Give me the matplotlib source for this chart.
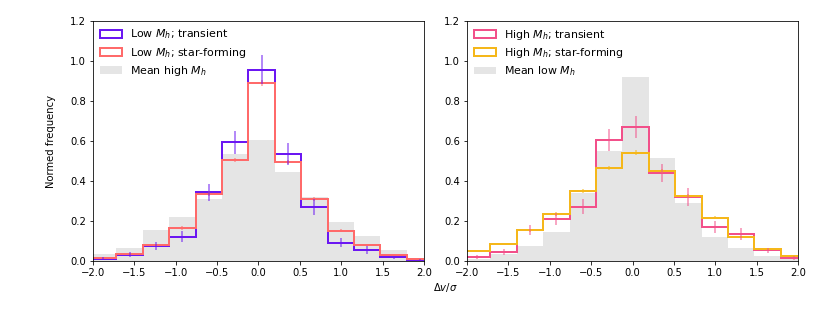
import numpy as np
import matplotlib
matplotlib.use("Agg")
import matplotlib.pyplot as plt

# bin edges (13 bins)
edges = np.array([-2.036, -1.717, -1.398, -1.079, -0.760, -0.441, -0.122,
                  0.197, 0.516, 0.835, 1.154, 1.473, 1.792, 2.111])

# left panel: low halo mass
low_trans = [0.012, 0.032, 0.077, 0.122, 0.344, 0.593, 0.956, 0.535, 0.270, 0.092, 0.055, 0.018, 0.005]
low_trans_err = [0.006, 0.014, 0.020, 0.028, 0.043, 0.058, 0.073, 0.053, 0.040, 0.022, 0.020, 0.009, 0.004]
low_sf = [0.015, 0.033, 0.080, 0.165, 0.336, 0.505, 0.890, 0.495, 0.309, 0.152, 0.079, 0.032, 0.012]
low_sf_err = [0.003, 0.005, 0.007, 0.010, 0.012, 0.010, 0.014, 0.010, 0.010, 0.007, 0.006, 0.004, 0.003]
mean_high = [0.037, 0.063, 0.155, 0.222, 0.312, 0.535, 0.605, 0.446, 0.321, 0.194, 0.127, 0.057, 0.015]

# right panel: high halo mass
high_trans = [0.018, 0.045, 0.155, 0.210, 0.272, 0.605, 0.670, 0.441, 0.320, 0.170, 0.134, 0.053, 0.015]
high_trans_err = [0.010, 0.016, 0.024, 0.031, 0.037, 0.054, 0.056, 0.046, 0.043, 0.029, 0.029, 0.013, 0.008]
high_sf = [0.052, 0.084, 0.154, 0.234, 0.349, 0.464, 0.541, 0.451, 0.324, 0.217, 0.120, 0.060, 0.027]
high_sf_err = [0.005, 0.006, 0.008, 0.009, 0.010, 0.011, 0.012, 0.011, 0.010, 0.008, 0.007, 0.005, 0.004]
mean_low = [0.012, 0.037, 0.077, 0.145, 0.341, 0.550, 0.922, 0.515, 0.289, 0.120, 0.067, 0.025, 0.008]

c_purple = '#6b17f2'
c_red = '#ff6a6a'
c_pink = '#f2508a'
c_orange = '#f5b71a'

centers = 0.5 * (edges[:-1] + edges[1:])

fig, axes = plt.subplots(1, 2, figsize=(830/72, 332/72), dpi=72)
fig.subplots_adjust(left=93/830, right=798/830, bottom=1-261/332, top=1-21/332, wspace=0.13)


def panel(ax, s1, e1, c1, l1, s2, e2, c2, l2, grey, lg):
    ax.hist(centers, bins=edges, weights=grey, color='gray', alpha=0.2, label=lg)
    ax.hist(centers, bins=edges, weights=s1, histtype='step', color=c1, lw=2, label=l1)
    ax.hist(centers, bins=edges, weights=s2, histtype='step', color=c2, lw=2, label=l2)
    ax.errorbar(centers, s2, yerr=e2, fmt='none', ecolor=c2, alpha=0.5, lw=2)
    ax.errorbar(centers, s1, yerr=e1, fmt='none', ecolor=c1, alpha=0.5, lw=2)
    ax.set_xlim(-2, 2)
    ax.set_ylim(0, 1.2)
    h, l = ax.get_legend_handles_labels()
    ax.legend([h[1], h[2], h[0]], [l[1], l[2], l[0]], loc='upper left', frameon=False,
              fontsize=11, borderaxespad=0.2, labelspacing=0.4)


panel(axes[0], low_trans, low_trans_err, c_purple, r'Low $M_h$; transient',
      low_sf, low_sf_err, c_red, r'Low $M_h$; star-forming',
      mean_high, r'Mean high $M_h$')
panel(axes[1], high_trans, high_trans_err, c_pink, r'High $M_h$; transient',
      high_sf, high_sf_err, c_orange, r'High $M_h$; star-forming',
      mean_low, r'Mean low $M_h$')

axes[0].set_ylabel('Normed frequency', labelpad=14)
fig.text(445.5/830, 1-288/332, r'$\Delta v/\sigma$', ha='center', va='center')

fig.savefig('out.png', dpi=72)
